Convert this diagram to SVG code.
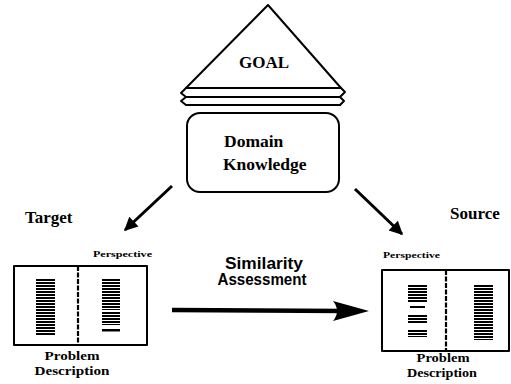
<svg xmlns="http://www.w3.org/2000/svg" width="511" height="384" viewBox="0 0 511 384">
  <style>
    .ln { fill: none; stroke: #000; stroke-width: 2; stroke-linejoin: round; stroke-linecap: round; }
    .serif { font-family: "Liberation Serif", "Times New Roman", serif; font-weight: bold; fill: #000; }
    .sans { font-family: "Liberation Sans", Arial, sans-serif; font-weight: bold; fill: #000; }
    .bars { fill: url(#rows); }
    .div { stroke: #000; stroke-width: 2.2; stroke-dasharray: 5 1.5; fill: none; }
    .arr { stroke: #000; stroke-width: 3; fill: none; }
  </style>
  <defs>
    <!-- horizontal line rows used for the stacked text bars -->
    <pattern id="rows" patternUnits="userSpaceOnUse" width="4" height="3">
      <rect x="0" y="0" width="4" height="2" fill="#000"/>
    </pattern>
    <marker id="head" viewBox="0 0 10 10" refX="9" refY="5" markerWidth="5" markerHeight="4.5" orient="auto" markerUnits="strokeWidth">
      <path d="M0,0 L10,5 L0,10 Z" fill="#000"/>
    </marker>
  </defs>
  <rect width="511" height="384" fill="#fff"/>

  <!-- goal pyramid with stacked sheets -->
  <g id="goal">
    <path class="ln" d="M186,88 L268,5 L341,88 Z"/>
    <path class="ln" d="M186,88 L181,93 L186,97 L181,101 L186,105"/>
    <path class="ln" d="M341,88 L345,92 L340,97 L344,101 L340,105"/>
    <path class="ln" d="M186,97 L340,97 M186,105 L340,105"/>
    <text class="serif" x="264" y="68" font-size="17" text-anchor="middle">GOAL</text>
  </g>

  <!-- domain knowledge -->
  <g id="domain">
    <rect class="ln" x="187" y="113" width="152" height="79" rx="13"/>
    <text class="serif" x="224" y="147" font-size="17.5">Domain</text>
    <text class="serif" x="223" y="170" font-size="17.5">Knowledge</text>
  </g>

  <!-- target case -->
  <g id="target">
    <text class="serif" x="25" y="223" font-size="17">Target</text>
    <text class="serif" x="93" y="257" font-size="9" textLength="59" lengthAdjust="spacingAndGlyphs">Perspective</text>
    <rect class="ln" x="14" y="266" width="133" height="79"/>
    <line class="div" x1="78" y1="266" x2="78" y2="345"/>
    <rect class="bars" x="36" y="279" width="19" height="57"/>
    <rect class="bars" x="102" y="279" width="18" height="31"/>
    <rect class="bars" x="102" y="312" width="18" height="13"/>
    <rect x="102" y="329" width="18" height="2.5" fill="#000"/>
    <text class="serif" x="72" y="360" font-size="13" text-anchor="middle" textLength="55" lengthAdjust="spacingAndGlyphs">Problem</text>
    <text class="serif" x="72" y="375" font-size="13" text-anchor="middle" textLength="75" lengthAdjust="spacingAndGlyphs">Description</text>
  </g>

  <!-- source case -->
  <g id="source">
    <text class="serif" x="450" y="219" font-size="17">Source</text>
    <text class="serif" x="383" y="258" font-size="9" textLength="57" lengthAdjust="spacingAndGlyphs">Perspective</text>
    <rect class="ln" x="382" y="270" width="127" height="81"/>
    <line class="div" x1="446" y1="270" x2="446" y2="351"/>
    <rect class="bars" x="408" y="284" width="19" height="19"/>
    <rect x="410" y="306" width="15" height="2" fill="#000"/>
    <rect class="bars" x="408" y="315" width="19" height="9"/>
    <rect class="bars" x="408" y="330" width="19" height="7"/>
    <rect class="bars" x="474" y="285" width="19" height="55"/>
    <text class="serif" x="443" y="362" font-size="13" text-anchor="middle" textLength="53" lengthAdjust="spacingAndGlyphs">Problem</text>
    <text class="serif" x="442" y="377" font-size="13" text-anchor="middle" textLength="70" lengthAdjust="spacingAndGlyphs">Description</text>
  </g>

  <!-- connectors -->
  <g id="connectors">
    <line class="arr" x1="172" y1="186" x2="125" y2="230" marker-end="url(#head)"/>
    <line class="arr" x1="355" y1="189" x2="402" y2="234" marker-end="url(#head)"/>
    <line x1="172" y1="310" x2="345" y2="311" stroke="#000" stroke-width="4.5"/>
    <path d="M369,311 L333,301 Q341,311 333,321 Z" fill="#000"/>
    <text class="sans" x="264" y="269" font-size="16" text-anchor="middle" textLength="78" lengthAdjust="spacingAndGlyphs">Similarity</text>
    <text class="sans" x="262" y="285" font-size="16" text-anchor="middle" textLength="89" lengthAdjust="spacingAndGlyphs">Assessment</text>
  </g>
</svg>
